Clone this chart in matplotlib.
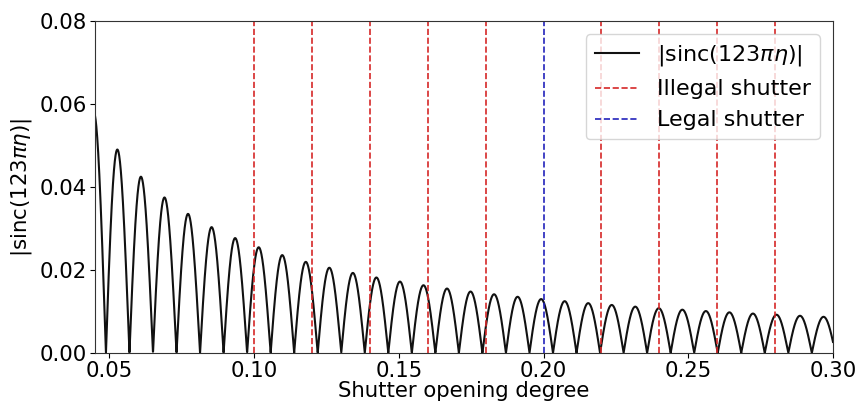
import numpy as np
import matplotlib
matplotlib.use("Agg")
import matplotlib.pyplot as plt

# Data
freq_factor = 123           # from the label |sinc(123πη)|
eta_min, eta_max = 0.045, 0.30
illegal_shutters = [0.10, 0.12, 0.14, 0.16, 0.18, 0.22, 0.24, 0.26, 0.28]
legal_shutters = [0.20]
x_ticks = [0.05, 0.10, 0.15, 0.20, 0.25, 0.30]
y_ticks = [0.00, 0.02, 0.04, 0.06, 0.08]

eta = np.linspace(eta_min, eta_max, 6000)
curve = np.abs(np.sinc(freq_factor * eta))

plt.rcParams['font.size'] = 15
fig = plt.figure(figsize=(8.6, 4.07), dpi=100)
ax = fig.add_axes([95/860, 1 - 353/407, (833-95)/860, (353-21)/407])

ax.plot(eta, curve, color='#111111', lw=1.5, label=r'|sinc(123$\pi\eta$)|')
for i, s in enumerate(illegal_shutters):
    ax.axvline(s, color='#d62728', ls='--', lw=1.2,
               label='Illegal shutter' if i == 0 else None)
for i, s in enumerate(legal_shutters):
    ax.axvline(s, color='#2222bb', ls='--', lw=1.2,
               label='Legal shutter' if i == 0 else None)

for sp in ax.spines.values():
    sp.set_color('#333333')

ax.set_xlim(eta_min, eta_max)
ax.set_ylim(0, 0.08)
ax.set_xticks(x_ticks)
ax.set_yticks(y_ticks)
ax.set_xticklabels([f"{t:.2f}" for t in x_ticks])
ax.set_yticklabels([f"{t:.2f}" for t in y_ticks])
ax.tick_params(labelsize=15.3, pad=2)
ax.set_xlabel('Shutter opening degree', fontsize=15.3, labelpad=0)
ax.set_ylabel(r'|sinc(123$\pi\eta$)|', fontsize=15.3, labelpad=4)
ax.legend(loc='upper right', fontsize=16, framealpha=0.8,
          borderaxespad=0.6, handlelength=2.0)

fig.savefig('out.png', dpi=100)
